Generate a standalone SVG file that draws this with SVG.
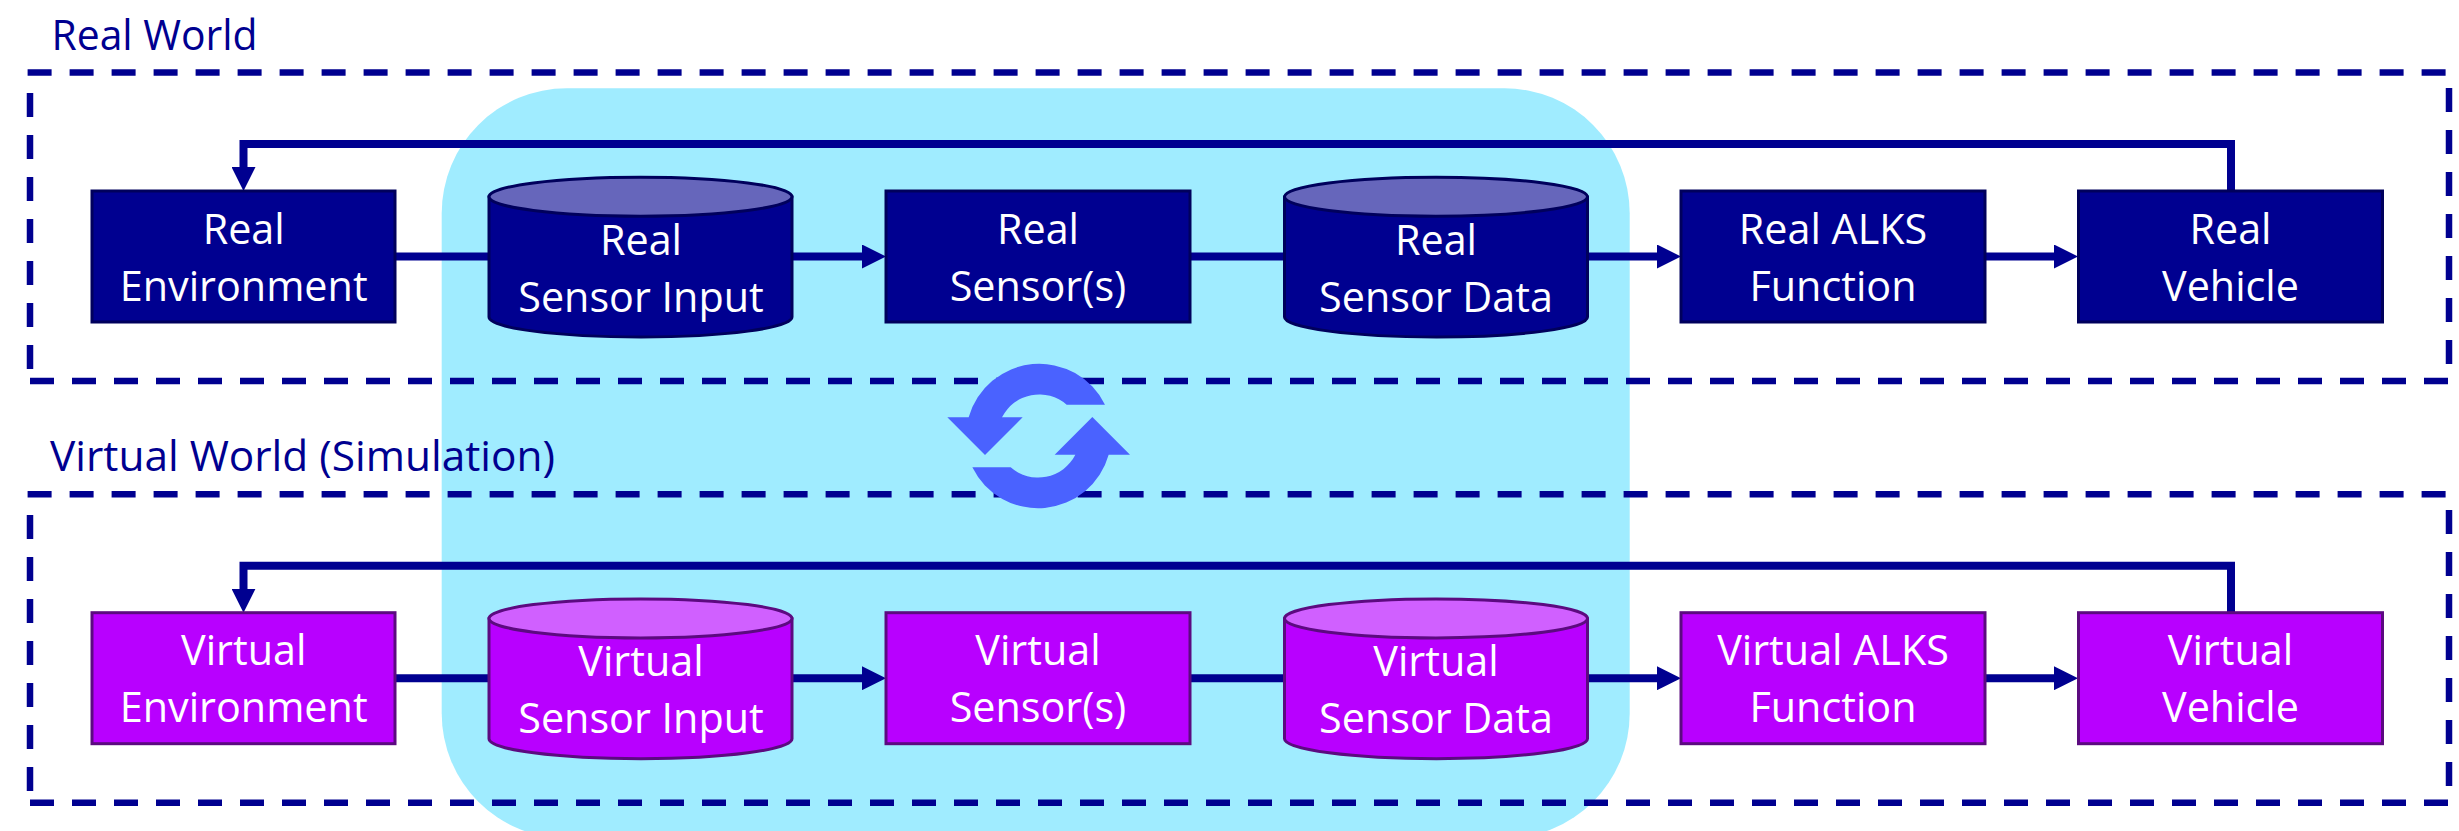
<svg xmlns="http://www.w3.org/2000/svg" width="2459" height="831" viewBox="0 0 2459 831">
<style>
.bg{fill:#A0ECFF}
.dash{fill:none;stroke:#000090;stroke-width:6.5;stroke-dasharray:24 18}
.c{fill:none;stroke:#000090;stroke-width:8}
.r{fill:#000090;stroke:#00005C;stroke-width:3}
.v{fill:#B800FF;stroke:#5C0A80;stroke-width:3}
.rt{fill:#6666BB;stroke:#00005C;stroke-width:3}
.vt{fill:#D060FF;stroke:#5C0A80;stroke-width:3}
text{font-family:"Open Sans","Noto Sans","Liberation Sans",sans-serif;font-size:41.3px}
.t{fill:#fff;text-anchor:middle}
.l{fill:#000090}
.s{fill:#4A62FF}
</style>
<defs>
<marker id="a" markerUnits="userSpaceOnUse" markerWidth="24" markerHeight="24" refX="2" refY="12" orient="auto"><path d="M0 0L24 12L0 24Z" fill="#000090"/></marker>
<path id="cyl" d="M0 20V140C0 151 68 160 152 160S303 151 303 140V20Z"/>
</defs>
<rect id="highlight" class="bg" x="441.7" y="88.3" width="1188" height="750" rx="125" ry="125"/>
<g id="real-world-frame">
<path class="dash" d="M27.6 72.5H2450"/><path class="dash" d="M2449 88V381"/><path class="dash" d="M30 381H2450"/><path class="dash" d="M30 93V381"/>
</g>
<g id="virtual-world-frame">
<path class="dash" d="M27.6 494.3H2450"/><path class="dash" d="M2449 510V803"/><path class="dash" d="M30 802.7H2450"/><path class="dash" d="M30 515V803"/>
</g>
<text id="label-real" class="l" x="51.5" y="49.5" textLength="206" lengthAdjust="spacingAndGlyphs">Real World</text>
<text id="label-virtual" class="l" x="50" y="470.7" textLength="505" lengthAdjust="spacingAndGlyphs">Virtual World (Simulation)</text>
<g id="connectors">
<path class="c" d="M395 256.5H864" marker-end="url(#a)"/>
<path class="c" d="M1190 256.5H1659" marker-end="url(#a)"/>
<path class="c" d="M1985 256.5H2056" marker-end="url(#a)"/>
<path class="c" d="M2231 191V144H243.5V169" marker-end="url(#a)"/>
<path class="c" d="M395 678.2H864" marker-end="url(#a)"/>
<path class="c" d="M1190 678.2H1659" marker-end="url(#a)"/>
<path class="c" d="M1985 678.2H2056" marker-end="url(#a)"/>
<path class="c" d="M2231 612.7V565.7H243.5V590.7" marker-end="url(#a)"/>
</g>
<g id="real-environment"><rect class="r" x="92" y="191" width="303" height="131"/><text class="t" x="243.7" y="243.6">Real</text><text class="t" x="243.7" y="300.7">Environment</text></g>
<g id="real-sensor-input"><use href="#cyl" class="r" x="489" y="177"/><ellipse class="rt" cx="640.5" cy="196.7" rx="151.5" ry="19.5"/><text class="t" x="641" y="254.6">Real</text><text class="t" x="641" y="311.7">Sensor Input</text></g>
<g id="real-sensors"><rect class="r" x="886" y="191" width="304" height="131"/><text class="t" x="1038" y="243.6">Real</text><text class="t" x="1038" y="300.7">Sensor(s)</text></g>
<g id="real-sensor-data"><use href="#cyl" class="r" x="1284.5" y="177"/><ellipse class="rt" cx="1436" cy="196.7" rx="151.5" ry="19.5"/><text class="t" x="1436" y="254.6">Real</text><text class="t" x="1436" y="311.7">Sensor Data</text></g>
<g id="real-alks"><rect class="r" x="1681" y="191" width="304" height="131"/><text class="t" x="1833" y="243.6">Real ALKS</text><text class="t" x="1833" y="300.7">Function</text></g>
<g id="real-vehicle"><rect class="r" x="2078.5" y="191" width="304" height="131"/><text class="t" x="2230.5" y="243.6">Real</text><text class="t" x="2230.5" y="300.7">Vehicle</text></g>
<g id="virtual-environment"><rect class="v" x="92" y="612.7" width="303" height="131"/><text class="t" x="243.7" y="665.3">Virtual</text><text class="t" x="243.7" y="722.4">Environment</text></g>
<g id="virtual-sensor-input"><use href="#cyl" class="v" x="489" y="598.7"/><ellipse class="vt" cx="640.5" cy="618.4" rx="151.5" ry="19.5"/><text class="t" x="641" y="676.3">Virtual</text><text class="t" x="641" y="733.4">Sensor Input</text></g>
<g id="virtual-sensors"><rect class="v" x="886" y="612.7" width="304" height="131"/><text class="t" x="1038" y="665.3">Virtual</text><text class="t" x="1038" y="722.4">Sensor(s)</text></g>
<g id="virtual-sensor-data"><use href="#cyl" class="v" x="1284.5" y="598.7"/><ellipse class="vt" cx="1436" cy="618.4" rx="151.5" ry="19.5"/><text class="t" x="1436" y="676.3">Virtual</text><text class="t" x="1436" y="733.4">Sensor Data</text></g>
<g id="virtual-alks"><rect class="v" x="1681" y="612.7" width="304" height="131"/><text class="t" x="1833" y="665.3">Virtual ALKS</text><text class="t" x="1833" y="722.4">Function</text></g>
<g id="virtual-vehicle"><rect class="v" x="2078.5" y="612.7" width="304" height="131"/><text class="t" x="2230.5" y="665.3">Virtual</text><text class="t" x="2230.5" y="722.4">Vehicle</text></g>
<g id="sync-icon">
<path class="s" d="M1105 404.67A73.3 73.3 0 0 0 968.67 417.33H947.33L985 455L1022.67 417.33H1002A41.7 41.7 0 0 1 1066.67 404.67Z"/>
<path class="s" d="M1105 404.67A73.3 73.3 0 0 0 968.67 417.33H947.33L985 455L1022.67 417.33H1002A41.7 41.7 0 0 1 1066.67 404.67Z" transform="rotate(180 1038.67 436)"/>
</g>
</svg>
